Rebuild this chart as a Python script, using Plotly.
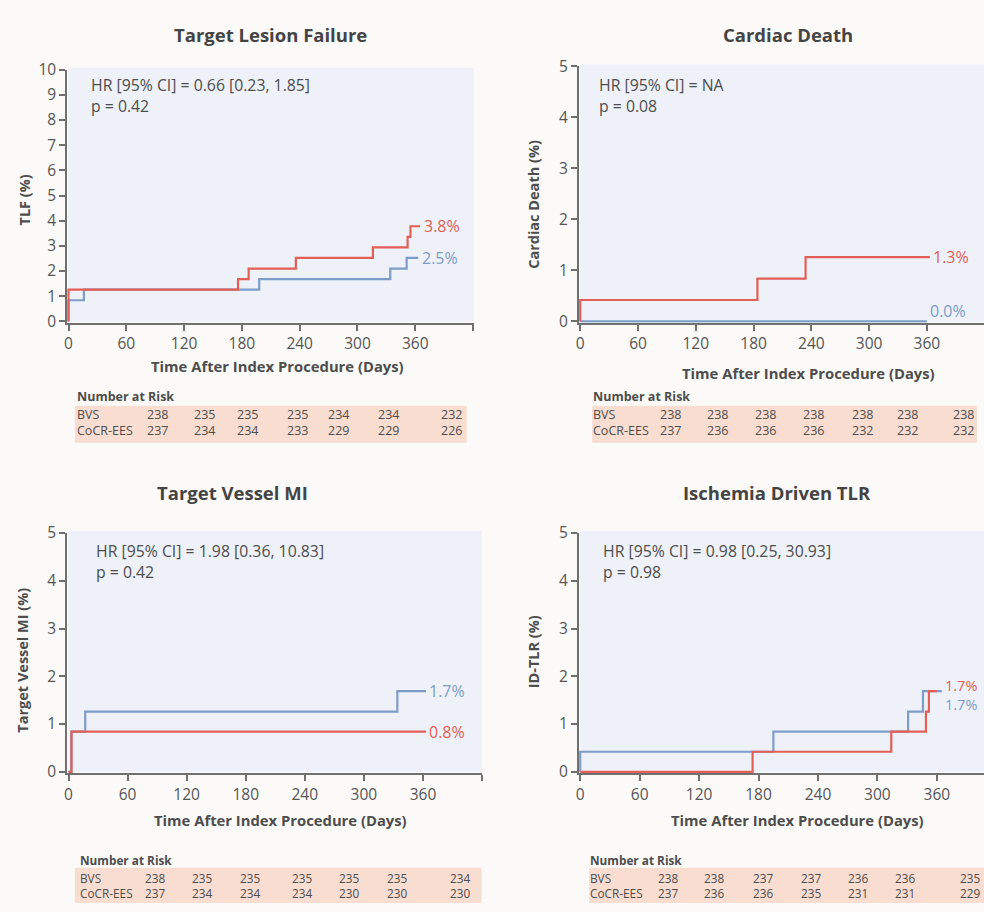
import plotly.graph_objects as go

# ---------------- data ----------------
# Cumulative incidence (%) step curves: event times (days) and values
tlf_bvs_t = [0, 0, 16, 198, 334, 351, 363]
tlf_bvs_y = [0, 0.84, 1.26, 1.68, 2.10, 2.52, 2.52]
tlf_cocr_t = [0, 0, 176, 187, 236, 316, 352, 355, 365]
tlf_cocr_y = [0, 1.26, 1.68, 2.10, 2.52, 2.94, 3.36, 3.78, 3.78]

cd_bvs_t = [0, 360]
cd_bvs_y = [0, 0]
cd_cocr_t = [0, 0, 184, 234, 363]
cd_cocr_y = [0, 0.42, 0.84, 1.26, 1.26]

tvmi_bvs_t = [0, 3, 17, 334, 363]
tvmi_bvs_y = [0, 0.84, 1.26, 1.69, 1.69]
tvmi_cocr_t = [0, 3, 363]
tvmi_cocr_y = [0, 0.84, 0.84]

idtlr_bvs_t = [0, 0, 195, 331, 346, 365]
idtlr_bvs_y = [0, 0.42, 0.84, 1.26, 1.69, 1.69]
idtlr_cocr_t = [0, 174, 314, 349, 352, 360]
idtlr_cocr_y = [0, 0.42, 0.84, 1.26, 1.69, 1.69]

# Number at risk tables
risk_tlf_bvs = [238, 235, 235, 235, 234, 234, 232]
risk_tlf_cocr = [237, 234, 234, 233, 229, 229, 226]
risk_cd_bvs = [238, 238, 238, 238, 238, 238, 238]
risk_cd_cocr = [237, 236, 236, 236, 232, 232, 232]
risk_tvmi_bvs = [238, 235, 235, 235, 235, 235, 234]
risk_tvmi_cocr = [237, 234, 234, 234, 230, 230, 230]
risk_idtlr_bvs = [238, 238, 237, 237, 236, 236, 235]
risk_idtlr_cocr = [237, 236, 236, 235, 231, 231, 229]

titles = ["Target Lesion Failure", "Cardiac Death", "Target Vessel MI", "Ischemia Driven TLR"]
y_titles = ["TLF (%)", "Cardiac Death (%)", "Target Vessel MI (%)", "ID-TLR (%)"]
stats = [
    ("HR [95% CI] = 0.66 [0.23, 1.85]", "p = 0.42"),
    ("HR [95% CI] = NA", "p = 0.08"),
    ("HR [95% CI] = 1.98 [0.36, 10.83]", "p = 0.42"),
    ("HR [95% CI] = 0.98 [0.25, 30.93]", "p = 0.98"),
]
x_tick_vals = [0, 60, 120, 180, 240, 300, 360, 420]
x_tick_text = ["0", "60", "120", "180", "240", "300", "360", ""]
group_names = ["BVS", "CoCR-EES"]

# ---------------- styling ----------------
W, H = 984, 912
FONT = "Open Sans"
RED = "#e35e56"
BLUE = "#7d9cc8"
TXT = "#4d4d4d"
AXIS = "#707070"
PLOT_BG = "#eef2f8"
PAPER_BG = "#fcfaf8"
BAND = "#f9ddd0"
END_FS = 16


def px(x):
    return x / W


def py(y):
    return 1 - y / H


# panel geometry in pixels: x0, x1, y of top tick, y of zero, x range max, y max
panels = [
    dict(x0=65.7, x1=472.5, yt=59.0, yb=316.7, xmax=421.0, ymax=10,
         curves=[(tlf_bvs_t, tlf_bvs_y), (tlf_cocr_t, tlf_cocr_y)],
         label_shift=(0, 0), merge=False),
    dict(x0=579.0, x1=984.0, yt=55.7, yb=316.7, xmax=419.3, ymax=5,
         curves=[(cd_bvs_t, cd_bvs_y), (cd_cocr_t, cd_cocr_y)],
         label_shift=(10, 0), merge=False),
    dict(x0=65.7, x1=480.5, yt=533.3, yb=777.7, xmax=420.0, ymax=5,
         curves=[(tvmi_bvs_t, tvmi_bvs_y), (tvmi_cocr_t, tvmi_cocr_y)],
         label_shift=(0, 0), merge=False),
    dict(x0=579.0, x1=984.0, yt=533.3, yb=777.7, xmax=407.6, ymax=5,
         curves=[(idtlr_bvs_t, idtlr_bvs_y), (idtlr_cocr_t, idtlr_cocr_y)],
         label_shift=(-3.5, 0), merge=True),
]

title_pos = [(268, 23), (787, 23), (230, 492), (776, 492)]
ytitle_pos = [(22, 192), (532, 197), (20, 663), (533, 655)]
xtitle_pos = [(275, 362), (808, 369), (278, 827), (797, 827)]
stat_pos = [(86, 85.5), (596, 85.5), (91, 562), (600, 562)]

tables = [
    dict(band=(72, 465, 403, 441), left=75, hy=394, ry=420.5, fs=12.5,
         cols=[155, 202, 245, 295, 337, 387, 450], rows=(risk_tlf_bvs, risk_tlf_cocr)),
    dict(band=(591, 977, 403, 441), left=593, hy=394, ry=420.5, fs=12.5,
         cols=[670, 717, 765, 813, 862, 907, 963], rows=(risk_cd_bvs, risk_cd_cocr)),
    dict(band=(72, 480, 876, 912), left=78, hy=868, ry=894, fs=11.8,
         cols=[152, 200, 248, 300, 347, 395, 458], rows=(risk_tvmi_bvs, risk_tvmi_cocr)),
    dict(band=(588, 984, 876, 912), left=590, hy=868, ry=894, fs=11.8,
         cols=[667, 713, 762, 810, 858, 905, 970], rows=(risk_idtlr_bvs, risk_idtlr_cocr)),
]

fig = go.Figure()
annotations = []
shapes = []
layout_axes = {}

for i, p in enumerate(panels):
    n = "" if i == 0 else str(i + 1)
    xa, ya = "x" + n, "y" + n
    colors = [BLUE, RED]
    # BVS drawn first, CoCR-EES on top
    for (t, y), color, name in zip(p["curves"], colors, group_names):
        fig.add_trace(go.Scatter(
            x=t, y=y, mode="lines", line=dict(color=color, width=2.2, shape="hv"),
            name=name, showlegend=False, xaxis=xa, yaxis=ya, hoverinfo="skip",
        ))

    # final cumulative incidence labels
    ends = [(t[-1], y[-1]) for t, y in p["curves"]]
    if p["merge"]:
        # equal end values: stack both labels, CoCR-EES above BVS
        (tb_end, yb_end), (tc_end, yc_end) = ends
        text = (f"<span style='color:{RED}'>{yc_end:.1f}%</span><br>"
                f"<span style='color:{BLUE}'>{yb_end:.1f}%</span>")
        annotations.append(dict(
            x=max(tb_end, tc_end) + 1.5, y=(yb_end + yc_end) / 2, xref=xa, yref=ya,
            xanchor="left", yanchor="middle", align="left", text=text, showarrow=False,
            yshift=p["label_shift"][0], font=dict(family=FONT, size=14.5, color=TXT),
        ))
    else:
        for (te, ye), color, shift in zip(ends, colors, p["label_shift"]):
            annotations.append(dict(
                x=te + 1.5, y=ye, xref=xa, yref=ya, xanchor="left", yanchor="middle",
                text=f"{ye:.1f}%", showarrow=False, yshift=shift,
                font=dict(family=FONT, size=END_FS, color=color),
            ))

    # small padding below zero / left of day 0 so lines on the axes stay visible
    x_px_per_unit = (p["x1"] - p["x0"]) / p["xmax"]
    y_px_per_unit = (p["yb"] - p["yt"]) / p["ymax"]
    x_pad = 1.5 / x_px_per_unit
    y_pad = 1.5 / y_px_per_unit

    axis_common = dict(
        showline=True, linecolor=AXIS, linewidth=1.5, ticks="outside",
        tickcolor=AXIS, tickwidth=1.5, ticklen=6, showgrid=False, zeroline=False,
        tickfont=dict(family=FONT, size=15.5, color="#555555"), fixedrange=True,
        layer="below traces",
    )
    layout_axes["xaxis" + n] = dict(
        axis_common,
        domain=[px(p["x0"] - 1.5), min(1.0, px(p["x1"]))],
        range=[-x_pad, p["xmax"]], tickvals=x_tick_vals, ticktext=x_tick_text,
        anchor=ya,
    )
    layout_axes["yaxis" + n] = dict(
        axis_common,
        domain=[py(p["yb"] + 1.5), py(p["yt"])],
        range=[-y_pad, p["ymax"]], dtick=1, anchor=xa,
    )
    # plot-area background
    shapes.append(dict(
        type="rect", xref="paper", yref="paper", layer="below",
        x0=px(p["x0"]), x1=min(1.0, px(p["x1"])), y0=py(p["yb"]), y1=py(p["yt"] - 2),
        fillcolor=PLOT_BG, line=dict(width=0),
    ))

    # panel title
    tx, ty = title_pos[i]
    annotations.append(dict(
        x=px(tx), y=py(ty), xref="paper", yref="paper", showarrow=False,
        text=f"<b>{titles[i]}</b>", xanchor="center", yanchor="middle",
        font=dict(family=FONT, size=18.5, color="#444444"),
    ))
    # y-axis title
    yx, yy = ytitle_pos[i]
    annotations.append(dict(
        x=px(yx), y=py(yy), xref="paper", yref="paper", showarrow=False,
        text=f"<b>{y_titles[i]}</b>", textangle=-90, xanchor="center", yanchor="middle",
        font=dict(family=FONT, size=14.5, color=TXT),
    ))
    # x-axis title
    xx, xy = xtitle_pos[i]
    annotations.append(dict(
        x=px(xx), y=py(xy), xref="paper", yref="paper", showarrow=False,
        text="<b>Time After Index Procedure (Days)</b>", xanchor="center", yanchor="middle",
        font=dict(family=FONT, size=14.8, color=TXT),
    ))
    # hazard ratio and p-value
    sx, sy = stat_pos[i]
    annotations.append(dict(
        x=px(sx), y=py(sy), xref="paper", yref="paper", showarrow=False,
        text="<br>".join(stats[i]), xanchor="left", yanchor="middle", align="left",
        font=dict(family=FONT, size=15.8, color=TXT),
    ))

    # number at risk table
    tb = tables[i]
    bx0, bx1, by0, by1 = tb["band"]
    shapes.append(dict(
        type="rect", xref="paper", yref="paper", layer="below",
        x0=px(bx0), x1=px(bx1), y0=py(by1), y1=py(by0),
        fillcolor=BAND, line=dict(width=0),
    ))
    annotations.append(dict(
        x=px(tb["left"] - 3), y=py(tb["hy"]), xref="paper", yref="paper", showarrow=False,
        text="<b>Number at Risk</b>", xanchor="left", yanchor="middle",
        font=dict(family=FONT, size=tb["fs"], color=TXT),
    ))
    annotations.append(dict(
        x=px(tb["left"] - 3), y=py(tb["ry"]), xref="paper", yref="paper", showarrow=False,
        text="<br>".join(group_names), xanchor="left", yanchor="middle", align="left",
        font=dict(family=FONT, size=tb["fs"], color=TXT),
    ))
    bvs_row, cocr_row = tb["rows"]
    for cx, a, b in zip(tb["cols"], bvs_row, cocr_row):
        annotations.append(dict(
            x=px(cx), y=py(tb["ry"]), xref="paper", yref="paper", showarrow=False,
            text=f"{a}<br>{b}", xanchor="center", yanchor="middle",
            font=dict(family=FONT, size=tb["fs"], color=TXT),
        ))

fig.update_layout(
    width=W, height=H, margin=dict(l=0, r=0, t=0, b=0),
    paper_bgcolor=PAPER_BG, plot_bgcolor="rgba(0,0,0,0)",
    showlegend=False, annotations=annotations, shapes=shapes,
    **layout_axes,
)

fig.write_html("out.html", config={"displayModeBar": False})
